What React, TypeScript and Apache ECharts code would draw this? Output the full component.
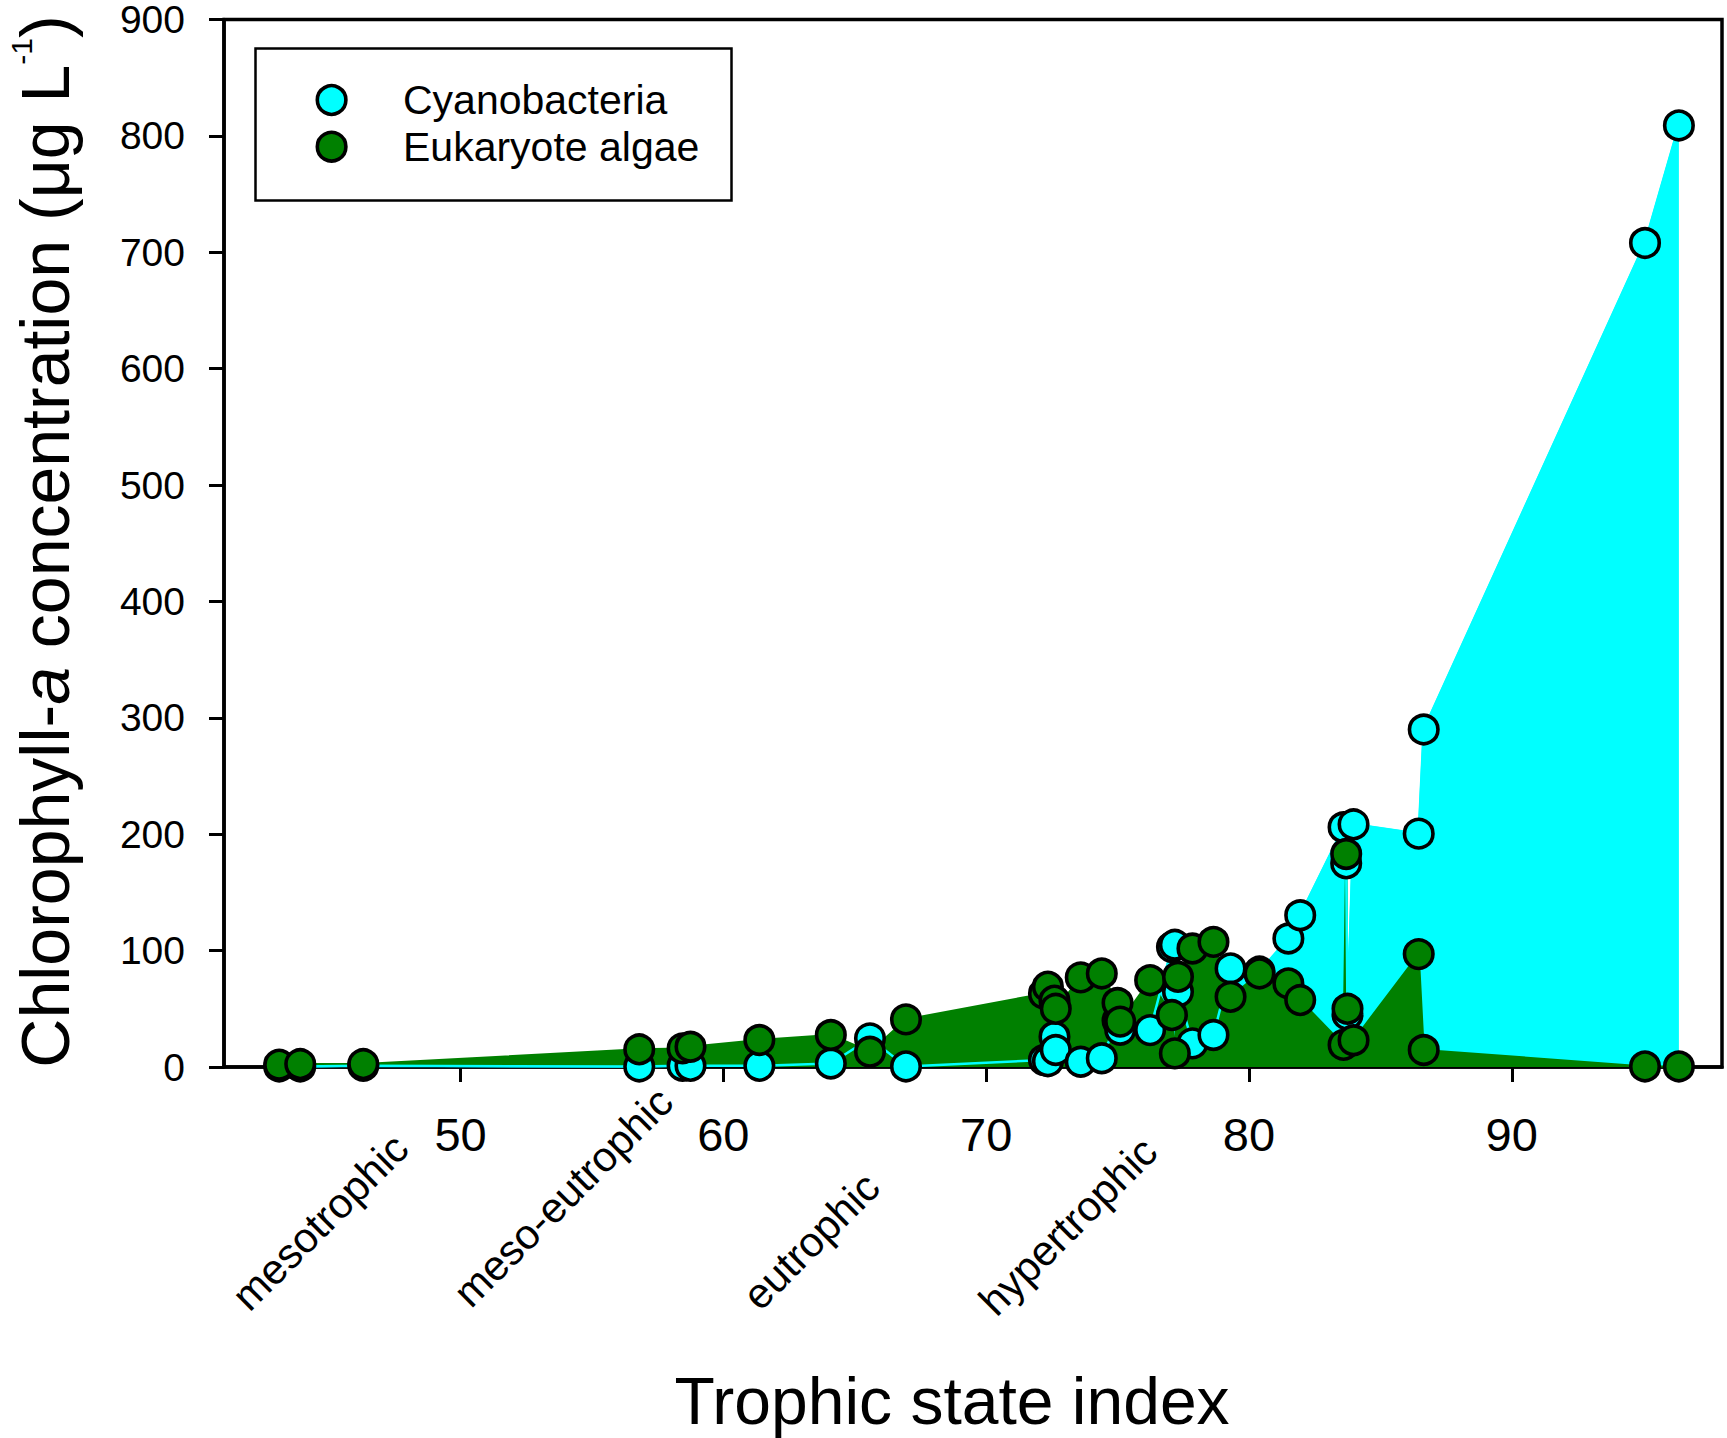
import React, { useEffect, useRef } from "react";
import * as echarts from "echarts";

// Trophic state index of each sample (x)
const tsi = [
  43.1, 43.9, 46.3, 56.8, 58.45, 58.75, 61.37, 64.09, 65.58, 66.95,
  72.2, 72.35, 72.6, 72.65, 73.6, 74.4, 75.0, 75.1, 76.24, 77.07,
  77.18, 77.3, 77.85, 78.65, 79.3, 80.4, 81.5, 81.95, 83.6, 83.7,
  83.75, 83.98, 86.46, 86.65, 95.07, 96.36,
];

// Chlorophyll-a of Cyanobacteria (µg/L)
const cyanobacteria = [
  0.5, 0.5, 1, 0.5, 1, 1, 1, 3, 24.6, 0.5,
  6, 5, 26, 14.6, 4.5, 7.5, 40, 32, 31.7, 103,
  105, 64.6, 20.3, 27.5, 84.7, 82, 110.4, 130.4, 206, 175,
  45, 208.5, 200.5, 290, 708, 809,
];

// Chlorophyll-a of Eukaryote algae (µg/L)
const eukaryoteAlgae = [
  2, 2.5, 2.5, 15.2, 16, 17.4, 23.2, 27.5, 13.1, 40.9,
  63, 69, 57, 50, 77, 80.4, 55, 39, 74.6, 44.6,
  11.7, 77.5, 101.8, 107.5, 60.3, 80.4, 71.8, 57.5, 19, 183,
  50, 23, 97, 14.6, 0.5, 0.5,
];

const xTickValues = [50, 60, 70, 80, 90];
const trophicLabels = ["mesotrophic", "meso-eutrophic", "eutrophic", "hypertrophic"];
const seriesNames = ["Cyanobacteria", "Eukaryote algae"];

const FONT = "'Liberation Sans', Arial, Helvetica, sans-serif";
const CYAN = "#00FFFF";
const GREEN = "#008000";

export default function App() {
  const ref = useRef<HTMLDivElement>(null);

  useEffect(() => {
    if (!ref.current) return;
    const chart = echarts.init(ref.current, undefined, { renderer: "svg" });
    const cyanPts = tsi.map((x, i) => [x, cyanobacteria[i]]);
    const eukPts = tsi.map((x, i) => [x, eukaryoteAlgae[i]]);

    const labelPos = [
      [320, 1222],
      [563, 1197],
      [811, 1241],
      [1068, 1226],
    ];

    const textStyle = (text: string, size: number, align: string) => ({
      text,
      fontSize: size,
      fontFamily: FONT,
      fill: "#000",
      align,
      verticalAlign: "middle",
      textAlign: align,
      textVerticalAlign: "middle",
    });

    chart.setOption({
      animation: false,
      grid: {
        left: 224,
        right: 5,
        top: 18,
        bottom: 371,
        show: true,
        borderColor: "#000",
        borderWidth: 3.5,
        backgroundColor: "transparent",
      },
      xAxis: {
        type: "value",
        min: 41,
        max: 98,
        axisLine: { show: true, onZero: false, lineStyle: { color: "#000", width: 3.5 } },
        axisTick: {
          show: true,
          inside: false,
          length: 15,
          customValues: xTickValues,
          lineStyle: { color: "#000", width: 3 },
        },
        axisLabel: {
          customValues: xTickValues,
          margin: 44,
          fontSize: 47,
          color: "#000",
          fontFamily: FONT,
        },
        splitLine: { show: false },
      },
      yAxis: {
        type: "value",
        min: 0,
        max: 900,
        interval: 100,
        axisLine: { show: true, onZero: false, lineStyle: { color: "#000", width: 3.5 } },
        axisTick: { show: true, inside: false, length: 15, lineStyle: { color: "#000", width: 3 } },
        axisLabel: { margin: 39, fontSize: 39, lineHeight: 30, color: "#000", fontFamily: FONT },
        splitLine: { show: false },
      },
      series: [
        {
          type: "line",
          name: "cyanArea",
          data: cyanPts,
          symbol: "none",
          showSymbol: false,
          lineStyle: { color: CYAN, width: 2 },
          areaStyle: { color: CYAN, opacity: 1 },
          z: 1,
          silent: true,
        },
        {
          type: "line",
          name: "greenArea",
          data: eukPts,
          symbol: "none",
          showSymbol: false,
          lineStyle: { color: GREEN, width: 2 },
          areaStyle: { color: GREEN, opacity: 1 },
          z: 2,
          silent: true,
        },
        {
          type: "line",
          name: "cyanLine",
          data: cyanPts,
          symbol: "none",
          showSymbol: false,
          lineStyle: { color: CYAN, width: 2.5 },
          z: 3,
          silent: true,
        },
        {
          type: "scatter",
          name: seriesNames[0],
          data: cyanPts,
          symbol: "circle",
          symbolSize: 28.5,
          clip: false,
          itemStyle: { color: CYAN, borderColor: "#000", borderWidth: 3.6, opacity: 1 },
          z: 4,
        },
        {
          type: "scatter",
          name: seriesNames[1],
          data: eukPts,
          symbol: "circle",
          symbolSize: 28.5,
          clip: false,
          itemStyle: { color: GREEN, borderColor: "#000", borderWidth: 3.6, opacity: 1 },
          z: 5,
        },
      ],
      graphic: [
        // Y-axis title
        {
          type: "text",
          x: 45,
          y: 541.5,
          rotation: Math.PI / 2,
          style: {
            text: "{n|Chlorophyll-}{i|a}{n| concentration (μg L}{s|-1}{n|)}",
            fontSize: 68,
            fontFamily: FONT,
            fill: "#000",
            align: "center",
            verticalAlign: "middle",
            textAlign: "center",
            textVerticalAlign: "middle",
            rich: {
              n: { fontSize: 68, fontFamily: FONT, fill: "#000" },
              i: { fontSize: 68, fontFamily: FONT, fontStyle: "italic", fill: "#000" },
              s: { fontSize: 30, fontFamily: FONT, fill: "#000", padding: [0, 0, 47, 0] },
            },
          },
        },
        // X-axis title
        {
          type: "text",
          x: 952,
          y: 1401,
          style: textStyle("Trophic state index", 66, "center"),
        },
        // Trophic category labels
        ...trophicLabels.map((t, i) => ({
          type: "text",
          x: labelPos[i][0],
          y: labelPos[i][1],
          rotation: Math.PI / 4,
          style: textStyle(t, 42, "center"),
        })),
        // Legend
        {
          type: "rect",
          shape: { x: 255.5, y: 48.5, width: 476, height: 152 },
          style: { fill: "#fff", stroke: "#000", lineWidth: 2.5 },
          z: 10,
        },
        {
          type: "circle",
          shape: { cx: 331.6, cy: 100, r: 14.3 },
          style: { fill: CYAN, stroke: "#000", lineWidth: 3.6 },
          z: 11,
        },
        {
          type: "circle",
          shape: { cx: 331.6, cy: 146.7, r: 14.3 },
          style: { fill: GREEN, stroke: "#000", lineWidth: 3.6 },
          z: 11,
        },
        {
          type: "text",
          x: 403,
          y: 100,
          z: 11,
          style: textStyle(seriesNames[0], 41, "left"),
        },
        {
          type: "text",
          x: 403,
          y: 146.7,
          z: 11,
          style: textStyle(seriesNames[1], 41, "left"),
        },
      ],
    });

    return () => chart.dispose();
  }, []);

  return (
    <div
      ref={ref}
      style={{ position: "absolute", left: 0, top: 0, width: 1727, height: 1438 }}
    />
  );
}
